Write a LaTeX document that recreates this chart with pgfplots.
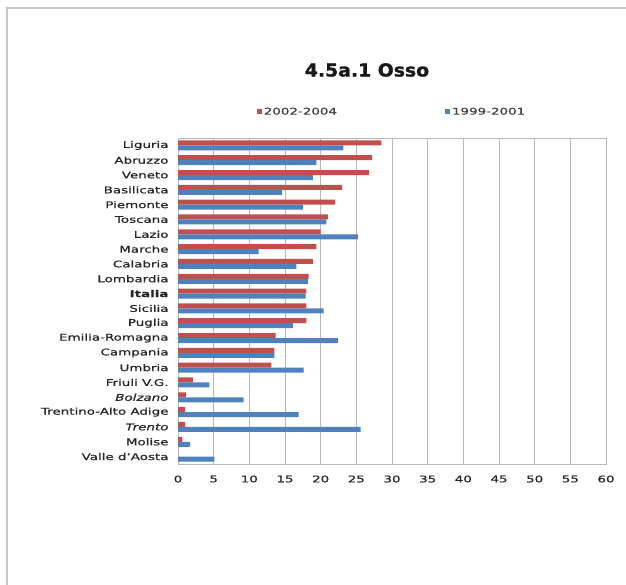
\documentclass[border=0pt]{standalone}
\usepackage{fontspec}
\setmainfont{DejaVu Sans}[FakeStretch=1.45,FakeBold=0.8]
\newfontfamily\titlefont{DejaVu Sans}[FakeStretch=1.05,BoldFeatures={FakeBold=1.2}]
\usepackage{pgfplots}
\usepackage{pgfplotstable}
\pgfplotsset{compat=1.18}
\definecolor{exred}{HTML}{C0504D}
\definecolor{exblue}{HTML}{4F81BD}
\definecolor{gridgray}{HTML}{B8B8B8}
\pgfplotstableread{
idx a b
0 28.5 23.2
1 27.2 19.4
2 26.8 18.9
3 23.0 14.6
4 22.0 17.5
5 21.0 20.8
6 20.0 25.2
7 19.4 11.3
8 18.9 16.6
9 18.3 18.2
10 18.0 17.9
11 18.0 20.4
12 18.0 16.1
13 13.7 22.4
14 13.5 13.5
15 13.1 17.6
16 2.1 4.4
17 1.1 9.2
18 1.0 16.9
19 1.0 25.6
20 0.6 1.7
21 0.0 5.1
}\osso
\begin{document}
\begin{tikzpicture}[x=1bp,y=1bp]
\useasboundingbox (0,0) rectangle (626,585);
\draw[gray!45, line width=1.2bp] (7,-5) -- (7,577) -- (640,577);
\node[font=\titlefont\bfseries\fontsize{18}{20}\selectfont, text=black!90] at (367,515) {4.5a.1 Osso};
\begin{axis}[
  at={(178bp,121bp)}, anchor=south west,
  scale only axis, width=428bp, height=326bp,
  xbar, bar width=5bp,
  xmin=0, xmax=60, ymin=-0.5, ymax=21.5,
  y dir=reverse,
  xtick={0,5,...,60},
  ytick={0,...,21},
  yticklabels={Liguria,Abruzzo,Veneto,Basilicata,Piemonte,Toscana,Lazio,Marche,Calabria,Lombardia,\textbf{Italia},Sicilia,Puglia,Emilia-Romagna,Campania,Umbria,Friuli V.G.,\textit{Bolzano},Trentino-Alto Adige,\textit{Trento},Molise,Valle d'Aosta},
  /pgf/number format/assume math mode=true,
  tick label style={font=\fontsize{9.3}{10}\selectfont, text=black!85},
  xticklabel style={yshift=-8bp},
  yticklabel style={xshift=-6bp},
  major tick length=0pt,
  xmajorgrids, grid style={gridgray, line width=0.8bp},
  axis line style={gridgray, line width=0.8bp},
  legend columns=2,
  legend style={at={(0.5,1.08)}, anchor=center, draw=none, fill=none,
    font=\fontsize{9.3}{10}\selectfont, text=black!75,
    /tikz/every even column/.append style={column sep=106bp},
    inner sep=0pt},
  legend image code/.code={\fill[#1] (0bp,-2.5bp) rectangle (5bp,2.5bp);},
]
\addplot[fill=exred, draw=none, bar shift=2.5bp] table[x=a, y=idx] {\osso};
\addplot[fill=exblue, draw=none, bar shift=-2.5bp] table[x=b, y=idx] {\osso};
\legend{2002-2004,1999-2001}
\end{axis}
\end{tikzpicture}
\end{document}
